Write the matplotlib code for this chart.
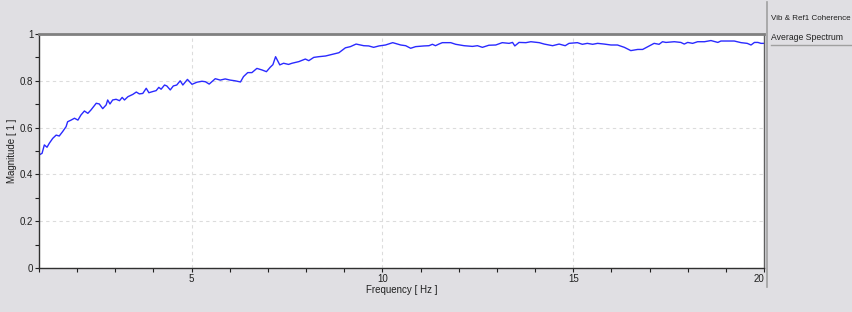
import matplotlib.pyplot as plt
from matplotlib.ticker import MultipleLocator

# coherence curve
freq = [1.00, 1.08, 1.14, 1.21, 1.27, 1.36, 1.45, 1.53, 1.62, 1.71, 1.75, 1.84,
        1.93, 2.02, 2.10, 2.19, 2.28, 2.36, 2.50, 2.58, 2.67, 2.76, 2.80, 2.86,
        2.93, 3.02, 3.11, 3.18, 3.24, 3.33, 3.46, 3.55, 3.63, 3.72, 3.81, 3.88,
        3.98, 4.07, 4.14, 4.20, 4.29, 4.35, 4.44, 4.52, 4.61, 4.70, 4.77, 4.89,
        5.01, 5.14, 5.27, 5.36, 5.46, 5.62, 5.75, 5.88, 6.01, 6.14, 6.28, 6.36,
        6.47, 6.58, 6.71, 6.85, 6.96, 7.06, 7.13, 7.20, 7.31, 7.41, 7.54, 7.63,
        7.81, 7.98, 8.07, 8.20, 8.33, 8.51, 8.68, 8.86, 9.03, 9.16, 9.31, 9.51,
        9.64, 9.77, 9.91, 10.08, 10.27, 10.48, 10.61, 10.74, 10.87, 11.09, 11.22,
        11.31, 11.39, 11.48, 11.57, 11.79, 11.92, 12.14, 12.36, 12.49, 12.62,
        12.79, 12.97, 13.14, 13.32, 13.41, 13.47, 13.58, 13.76, 13.89, 14.11,
        14.24, 14.46, 14.63, 14.79, 14.89, 15.11, 15.24, 15.37, 15.51, 15.64,
        15.81, 15.99, 16.16, 16.34, 16.51, 16.69, 16.82, 16.99, 17.12, 17.25,
        17.34, 17.43, 17.65, 17.82, 17.91, 18.00, 18.13, 18.26, 18.44, 18.61,
        18.79, 18.87, 19.05, 19.22, 19.40, 19.56, 19.66, 19.75, 19.84, 19.92, 20.00]
magnitude = [0.483, 0.490, 0.526, 0.516, 0.533, 0.554, 0.568, 0.564, 0.583, 0.604,
             0.625, 0.632, 0.640, 0.632, 0.654, 0.671, 0.661, 0.675, 0.704, 0.701,
             0.681, 0.697, 0.718, 0.701, 0.718, 0.721, 0.715, 0.729, 0.718, 0.732,
             0.742, 0.752, 0.744, 0.746, 0.768, 0.749, 0.754, 0.758, 0.772, 0.764,
             0.782, 0.778, 0.761, 0.778, 0.782, 0.800, 0.782, 0.806, 0.785, 0.794,
             0.798, 0.796, 0.786, 0.809, 0.803, 0.808, 0.803, 0.800, 0.795, 0.818,
             0.835, 0.835, 0.853, 0.846, 0.839, 0.858, 0.869, 0.903, 0.868, 0.875,
             0.870, 0.875, 0.882, 0.893, 0.886, 0.900, 0.903, 0.906, 0.913, 0.920,
             0.941, 0.946, 0.957, 0.950, 0.949, 0.943, 0.949, 0.953, 0.963, 0.953,
             0.950, 0.939, 0.946, 0.949, 0.950, 0.956, 0.950, 0.957, 0.963, 0.963,
             0.956, 0.950, 0.947, 0.950, 0.943, 0.952, 0.953, 0.963, 0.960, 0.964,
             0.949, 0.964, 0.963, 0.967, 0.963, 0.957, 0.950, 0.957, 0.950, 0.960,
             0.963, 0.956, 0.960, 0.956, 0.960, 0.957, 0.953, 0.953, 0.943, 0.929,
             0.934, 0.934, 0.949, 0.960, 0.956, 0.967, 0.964, 0.967, 0.964, 0.957,
             0.964, 0.960, 0.967, 0.967, 0.972, 0.964, 0.970, 0.970, 0.970, 0.963,
             0.960, 0.953, 0.964, 0.964, 0.960, 0.960]

panel_items = ["Vib & Ref1 Coherence", "Average Spectrum"]

bg = "#e0dfe3"
plt.rcParams['font.family'] = ['Liberation Sans', 'DejaVu Sans']

fig = plt.figure(figsize=(8.52, 3.12), dpi=100, facecolor=bg)
ax = fig.add_axes([39 / 852, 1 - 268 / 312, 725 / 852, 234 / 312])
ax.set_facecolor("white")

ax.plot(freq, magnitude, color="#2a2aff", lw=1.0)

ax.set_xlim(1, 20)
ax.set_ylim(0, 1)
ax.xaxis.set_major_locator(MultipleLocator(5))
ax.xaxis.set_minor_locator(MultipleLocator(1))
ax.set_xticks([5, 10, 15, 20])
ax.yaxis.set_minor_locator(MultipleLocator(0.1))
ax.set_yticks([0, 0.2, 0.4, 0.6, 0.8, 1])
ax.set_yticklabels(["0", "0.2", "0.4", "0.6", "0.8", "1"])

ax.tick_params(which="both", direction="out", length=3, width=0.8,
               labelsize=7, pad=1, colors="#202020")
ax.get_xticklabels()[-1].set_horizontalalignment("right")
ax.grid(True, which="major", color="#dcdcdc", ls=(0, (3, 3)), lw=0.8)

for side in ["left", "bottom"]:
    ax.spines[side].set_color("#303030")
    ax.spines[side].set_linewidth(1.0)
ax.spines["top"].set_color("#808080")
ax.spines["top"].set_linewidth(2.0)
ax.spines["right"].set_color("#606060")
ax.spines["right"].set_linewidth(1.0)

ax.set_xlabel("Frequency [ Hz ]", fontsize=7, labelpad=1, color="#202020")
ax.set_ylabel("Magnitude [ 1 ]", fontsize=7, labelpad=2, color="#202020")

# side panel with the trace list
fig.add_artist(plt.Line2D([767 / 852, 767 / 852], [1 - 2 / 312, 1 - 287 / 312],
                          transform=fig.transFigure, color="#a0a0a0", lw=1.2))
fig.text(771 / 852, 1 - 19 / 312, panel_items[0], fontsize=5.8, va="center",
         color="#202020")
fig.text(771 / 852, 1 - 37 / 312, panel_items[1], fontsize=6.2, va="center",
         color="#202020")
fig.add_artist(plt.Line2D([771 / 852, 1.0], [1 - 45 / 312, 1 - 45 / 312],
                          transform=fig.transFigure, color="#a0a0a0", lw=1.0))

fig.savefig("out.png", dpi=100, facecolor=bg)
